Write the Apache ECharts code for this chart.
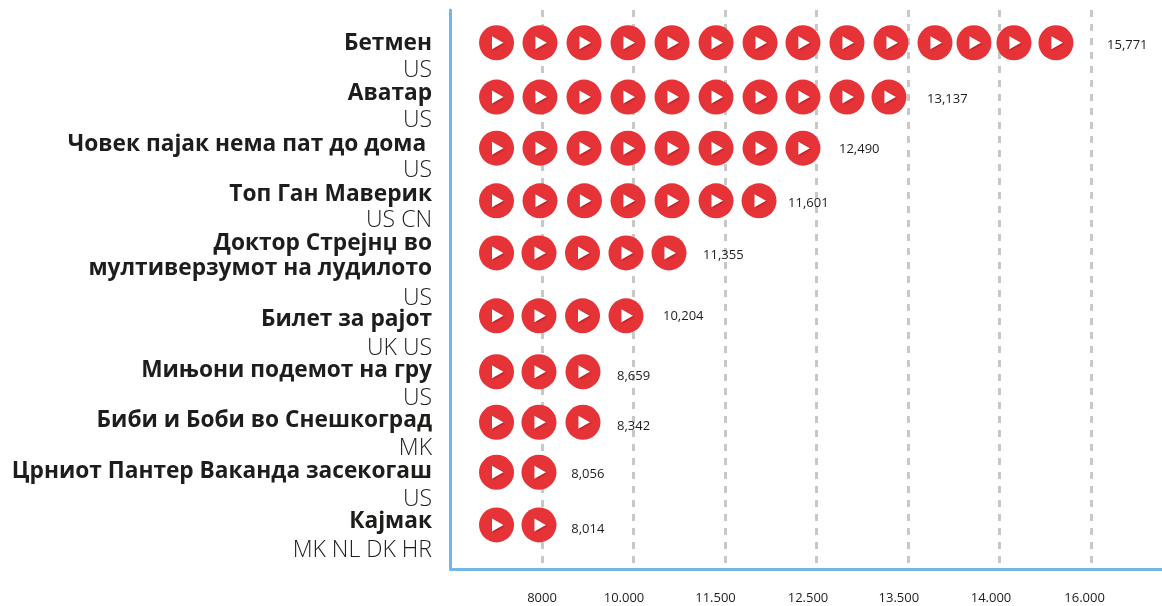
<!DOCTYPE html>
<html><head><meta charset="utf-8">
<style>html,body{margin:0;padding:0;background:#fff}#c{width:1162px;height:606px}</style>
<script src="https://cdn.jsdelivr.net/npm/echarts@6/dist/echarts.min.js"></script>
</head><body><div id="c"></div>
<script>
// Film titles and countries
const titles = ['Бетмен','Аватар','Човек пајак нема пат до дома ','Топ Ган Маверик','Доктор Стрејнџ во\nмултиверзумот на лудилото','Билет за рајот','Мињони подемот на гру','Биби и Боби во Снешкоград','Црниот Пантер Ваканда засекогаш','Кајмак'];
const countries = ['US','US','US','US CN','US','UK US','US','MK','US','MK NL DK HR'];
const valueLabels = ['15,771','13,137','12,490','11,601','11,355','10,204','8,659','8,342','8,056','8,014'];
const tickLabels = ['8000','10.000','11.500','12.500','13.500','14.000','16.000'];
// Where each thing sits on the chart's two axes (x: tick steps, y: row steps)
const tickLabelAt = [1.0,1.896,2.896,3.907,4.9,5.907,6.93];
const iconRowAt = [0.01,1.02,1.97,2.95,3.92,5.09,6.13,7.07,8.0,8.98];
const iconsAt = [
 [0.503,0.978,1.459,1.94,2.421,2.902,3.383,3.852,4.333,4.814,5.295,5.721,6.158,6.617],
 [0.503,0.978,1.459,1.94,2.421,2.902,3.383,3.852,4.333,4.792],
 [0.503,0.978,1.459,1.94,2.421,2.902,3.383,3.852],
 [0.503,0.978,1.464,1.94,2.421,2.902,3.372],
 [0.503,0.967,1.443,1.918,2.388],
 [0.503,0.967,1.443,1.918],
 [0.503,0.967,1.448],
 [0.503,0.967,1.448],
 [0.503,0.967],
 [0.503,0.967]
];
const valueLabelX = [7.175,5.208,4.246,3.689,2.76,2.322,1.82,1.82,1.32,1.32];
const valueLabelRow = [0.06,1.07,2.0,3.0,3.97,5.1,6.22,7.15,8.04,9.07];
const titleRow = [0.03,0.96,1.91,2.84,3.97,5.15,6.10,7.03,7.98,8.91];
const countryRow = [0.52,1.45,2.38,3.31,4.76,5.69,6.62,7.55,8.5,9.45];

const FONT = '"Open Sans", sans-serif';
const circles = [], triangles = [];
iconsAt.forEach((row, r) => row.forEach(x => { circles.push([x, iconRowAt[r]]); triangles.push([x, iconRowAt[r]]); }));

const chart = echarts.init(document.getElementById('c'), null, {renderer:'canvas'});
chart.setOption({
  animation:false,
  backgroundColor:'#fff',
  grid:{left:450.5,right:0,top:10,bottom:37,containLabel:false},
  xAxis:{type:'value',min:0,max:7.776,interval:1,
    axisLine:{show:true,onZero:false,lineStyle:{color:'#76b6e6',width:3}},
    axisTick:{show:false},
    splitLine:{show:true,showMinLine:false,showMaxLine:false,lineStyle:{color:'#c8c8c8',width:3,type:[7,7]}},
    axisLabel:{show:true,customValues:tickLabelAt,margin:23,color:'#1d1d1b',fontFamily:FONT,fontSize:13,
      formatter:(v,i)=>tickLabels[tickLabelAt.indexOf(v)]}
  },
  yAxis:{type:'value',inverse:true,min:-0.6,max:9.8,
    axisLine:{show:true,onZero:false,lineStyle:{color:'#76b6e6',width:3}},
    axisTick:{show:false},axisLabel:{show:false},splitLine:{show:false}},
  series:[
    {type:'scatter',z:3,silent:true,symbol:'circle',symbolSize:35,data:circles,
      itemStyle:{color:'#e63338',opacity:1}},
    {type:'scatter',z:4,silent:true,symbol:'triangle',symbolRotate:-90,symbolSize:[13,11.5],symbolOffset:[1.2,0],data:triangles,
      itemStyle:{color:'#fff',opacity:1,shadowColor:'rgba(110,0,0,0.4)',shadowBlur:2,shadowOffsetX:1,shadowOffsetY:1}},
    {type:'scatter',z:5,silent:true,symbolSize:0,itemStyle:{opacity:1},data:valueLabels.map((t,i)=>({value:[valueLabelX[i],valueLabelRow[i]],name:t})),
      label:{show:true,position:'right',distance:0,formatter:p=>p.name,color:'#1d1d1b',fontFamily:FONT,fontSize:13}},
    {type:'scatter',z:5,silent:true,symbolSize:0,itemStyle:{opacity:1},data:titles.map((t,i)=>({value:[0,titleRow[i]],name:t})),
      label:{show:true,position:'left',distance:18.5,align:'right',formatter:p=>p.name,color:'#1d1d1b',fontFamily:FONT,fontWeight:700,fontSize:22.7,lineHeight:25}},
    {type:'scatter',z:5,silent:true,symbolSize:0,itemStyle:{opacity:1},data:countries.map((t,i)=>({value:[0,countryRow[i]],name:t})),
      label:{show:true,position:'left',distance:18.5,align:'right',formatter:p=>p.name,color:'#1d1d1b',fontFamily:FONT,fontWeight:300,fontSize:23}}
  ]
});
</script></body></html>
